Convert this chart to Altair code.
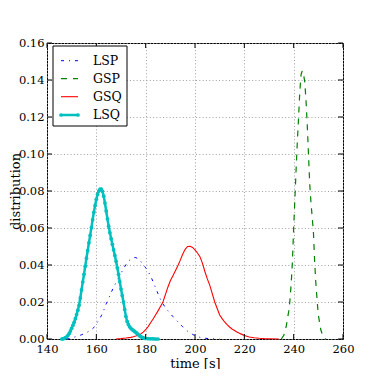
import altair as alt
import pandas as pd

# ---------------- data ----------------
lsp_t = [148, 149, 150, 151, 152, 153, 154, 155, 156, 157, 158, 159, 160, 161, 162, 163, 164, 165,
         166, 167, 168, 169, 170, 171, 172, 173, 174, 175, 176, 177, 178, 179, 180, 181, 182, 183,
         184, 185, 186, 187, 188, 189, 190, 191, 192, 193, 194, 195, 196, 197, 198, 199, 200, 201,
         202, 203, 204, 206, 208, 210]
lsp_y = [0.0, 0.0002, 0.0007, 0.0010, 0.0013, 0.0018, 0.0023, 0.0028, 0.0034, 0.0042, 0.0050, 0.0062,
         0.0080, 0.0103, 0.0125, 0.0155, 0.0190, 0.0220, 0.0250, 0.0280, 0.0305, 0.0330, 0.0355, 0.0380,
         0.0402, 0.0420, 0.0432, 0.0440, 0.0440, 0.0433, 0.0420, 0.0402, 0.0385, 0.0365, 0.0340, 0.0310,
         0.0278, 0.0245, 0.0215, 0.0190, 0.0170, 0.0153, 0.0137, 0.0122, 0.0108, 0.0094, 0.0080, 0.0066,
         0.0053, 0.0042, 0.0033, 0.0025, 0.0018, 0.0013, 0.0009, 0.0006, 0.0004, 0.0002, 0.0001, 0.0]

gsp_t = [235, 236, 237, 238, 238.5, 239, 239.5, 240, 240.5, 241, 241.5, 242, 242.5, 243, 243.5,
         244, 244.5, 245, 245.5, 246, 246.5, 247, 247.5, 248, 248.5, 249, 249.5, 250, 251, 252, 253]
gsp_y = [0.0, 0.002, 0.007, 0.015, 0.021, 0.030, 0.042, 0.060, 0.076, 0.092, 0.107, 0.120, 0.134,
         0.143, 0.145, 0.143, 0.139, 0.129, 0.116, 0.100, 0.084, 0.074, 0.066, 0.058, 0.042, 0.030,
         0.021, 0.013, 0.005, 0.001, 0.0]

gsq_t = [168, 170, 172, 174, 175, 176, 177, 178, 179, 180, 181, 182, 183, 184, 185, 186, 187, 188,
         189, 190, 191, 192, 193, 194, 195, 196, 197, 198, 199, 200, 201, 202, 203, 204, 205, 206,
         207, 208, 209, 210, 211, 212, 213, 214, 215, 216, 217, 218, 219, 220, 222, 224, 226, 228,
         230, 234]
gsq_y = [0.0, 0.0002, 0.0005, 0.0009, 0.0012, 0.0016, 0.0021, 0.0027, 0.0037, 0.0050, 0.0067, 0.0088,
         0.0108, 0.0130, 0.0152, 0.0176, 0.0200, 0.0240, 0.0280, 0.0315, 0.0340, 0.0368, 0.0395, 0.0425,
         0.0458, 0.0485, 0.0500, 0.0501, 0.0495, 0.0482, 0.0465, 0.0445, 0.0410, 0.0365, 0.0325, 0.0290,
         0.0245, 0.0200, 0.0165, 0.0130, 0.0110, 0.0092, 0.0078, 0.0065, 0.0054, 0.0046, 0.0038, 0.0031,
         0.0025, 0.0019, 0.0011, 0.0007, 0.0004, 0.0002, 0.0001, 0.0]

lsq_t = [146.0, 146.5, 147.0, 147.5, 148.0, 148.5, 149.0, 149.5, 150.0, 150.5, 151.0, 151.5, 152.0,
         152.5, 153.0, 153.5, 154.0, 154.5, 155.0, 155.5, 156.0, 156.5, 157.0, 157.5, 158.0, 158.5,
         159.0, 159.5, 160.0, 160.5, 161.0, 161.5, 162.0, 162.5, 163.0, 163.5, 164.0, 164.5, 165.0,
         165.5, 166.0, 166.5, 167.0, 167.5, 168.0, 168.5, 169.0, 169.5, 170.0, 170.5, 171.0, 171.5,
         172.0, 172.5, 173.0, 173.5, 174.0, 174.5, 175.0, 175.5, 176.0, 176.5, 177.0, 177.5, 178.0,
         178.5, 179.0, 179.5, 180.0, 181.0, 182.0, 183.0, 184.0, 185.0]
lsq_y = [0.0000, 0.0001, 0.0003, 0.0007, 0.0012, 0.0020, 0.0030, 0.0043, 0.0058, 0.0074, 0.0090, 0.0110,
         0.0132, 0.0156, 0.0182, 0.0222, 0.0265, 0.0308, 0.0350, 0.0393, 0.0437, 0.0478, 0.0520, 0.0560,
         0.0602, 0.0645, 0.0685, 0.0722, 0.0755, 0.0782, 0.0800, 0.0810, 0.0810, 0.0798, 0.0772, 0.0735,
         0.0692, 0.0650, 0.0610, 0.0575, 0.0542, 0.0512, 0.0482, 0.0452, 0.0420, 0.0385, 0.0350, 0.0310,
         0.0270, 0.0235, 0.0200, 0.0160, 0.0122, 0.0095, 0.0078, 0.0066, 0.0058, 0.0051, 0.0046, 0.0041,
         0.0036, 0.0030, 0.0024, 0.0018, 0.0013, 0.0009, 0.0006, 0.0004, 0.0003, 0.0002, 0.0001, 0.0001,
         0.0, 0.0]

x_ticks = [140, 160, 180, 200, 220, 240, 260]
y_ticks = [0.0, 0.02, 0.04, 0.06, 0.08, 0.10, 0.12, 0.14, 0.16]
legend_labels = ["LSP", "GSP", "GSQ", "LSQ"]

# ---------------- styling ----------------
W, H = 296, 296
FONT = "DejaVu Serif"
BLUE, GREEN, RED, CYAN = "#0000ff", "#008000", "#ff0000", "#00bfbf"

xs = alt.Scale(domain=[140, 260], nice=False, zero=False)
ys = alt.Scale(domain=[0, 0.16], nice=False, zero=False)

common_axis = dict(grid=True, gridColor="#a0a0a0", gridDash=[1, 2.3], gridWidth=1, tickSize=0,
                   domain=False, labelFont=FONT, labelFontSize=11.5, labelColor="black",
                   labelFlush=False, labelOverlap=False, titleFont=FONT, titleFontSize=13,
                   titleFontWeight="normal", titleColor="black")
xaxis = alt.Axis(values=x_ticks, format="d", labelPadding=4, title="time [s]",
                 titleX=148, titleY=28, titleBaseline="alphabetic", titleAlign="center",
                 **common_axis)
yaxis = alt.Axis(values=y_ticks, format=".2f", labelPadding=3, title="distribution",
                 titleX=-28, titleY=148, titleAngle=-90, titleBaseline="alphabetic",
                 titleAlign="center", **common_axis)


def X(field):
    return alt.X(field, scale=xs, axis=xaxis)


def Y(field):
    return alt.Y(field, scale=ys, axis=yaxis)


lsp = alt.Chart(pd.DataFrame({"t": lsp_t, "y": lsp_y})).mark_line(
    color=BLUE, strokeWidth=1, strokeDash=[3, 5, 1, 5]).encode(x=X("t:Q"), y=Y("y:Q"))
gsp = alt.Chart(pd.DataFrame({"t": gsp_t, "y": gsp_y})).mark_line(
    color=GREEN, strokeWidth=1.2, strokeDash=[6, 6]).encode(x=X("t:Q"), y=Y("y:Q"))
gsq = alt.Chart(pd.DataFrame({"t": gsq_t, "y": gsq_y})).mark_line(
    color=RED, strokeWidth=1.1).encode(x=X("t:Q"), y=Y("y:Q"))
lsq = alt.Chart(pd.DataFrame({"t": lsq_t, "y": lsq_y})).mark_line(
    color=CYAN, strokeWidth=2.5,
    point=alt.OverlayMarkDef(filled=True, size=14, color=CYAN, opacity=1)).encode(
    x=X("t:Q"), y=Y("y:Q"))

# inward tick marks (classic matplotlib look)
xt = pd.DataFrame({"v": x_ticks})
yt = pd.DataFrame({"v": y_ticks})
tick_b = alt.Chart(xt).mark_rule(color="black", strokeWidth=1).encode(
    x=X("v:Q"), y=alt.value(H), y2=alt.value(H - 5))
tick_t = alt.Chart(xt).mark_rule(color="black", strokeWidth=1).encode(
    x=X("v:Q"), y=alt.value(0), y2=alt.value(5))
tick_l = alt.Chart(yt).mark_rule(color="black", strokeWidth=1).encode(
    y=Y("v:Q"), x=alt.value(0), x2=alt.value(5))
tick_r = alt.Chart(yt).mark_rule(color="black", strokeWidth=1).encode(
    y=Y("v:Q"), x=alt.value(W), x2=alt.value(W - 5))

# legend drawn inside the plot (top-left)
one = pd.DataFrame({"k": [0]})
leg_box = alt.Chart(one).mark_rect(fill="white", stroke="black", strokeWidth=1).encode(
    x=alt.value(6), x2=alt.value(80), y=alt.value(3), y2=alt.value(83))
leg_rows = [17.7, 35.7, 53.7, 72]
leg_styles = [
    dict(color=BLUE, strokeWidth=1, strokeDash=[3, 5, 1, 5]),
    dict(color=GREEN, strokeWidth=1.2, strokeDash=[6, 6]),
    dict(color=RED, strokeWidth=1.1),
    dict(color=CYAN, strokeWidth=2.5),
]
leg_layers = [leg_box]
for lab, yy, st in zip(legend_labels, leg_rows, leg_styles):
    leg_layers.append(alt.Chart(one).mark_rule(**st).encode(
        x=alt.value(14), x2=alt.value(31), y=alt.value(yy)))
    leg_layers.append(alt.Chart(one).mark_text(
        align="left", baseline="middle", font=FONT, fontSize=12.5, color="black").encode(
        x=alt.value(46), y=alt.value(yy), text=alt.value(lab)))
for xx in (14, 31):
    leg_layers.append(alt.Chart(one).mark_point(
        filled=True, size=14, color=CYAN, opacity=1).encode(
        x=alt.value(xx), y=alt.value(leg_rows[3])))

chart = alt.layer(lsp, gsp, gsq, lsq, tick_b, tick_t, tick_l, tick_r, *leg_layers).properties(
    width=W, height=H,
    autosize=alt.AutoSizeParams(type="none"),
    padding={"left": 39, "top": 35, "right": 30, "bottom": 30},
    background="white",
).configure_view(stroke="black", strokeWidth=1)

chart.save("out.html", embed_options={"renderer": "svg", "actions": False})
